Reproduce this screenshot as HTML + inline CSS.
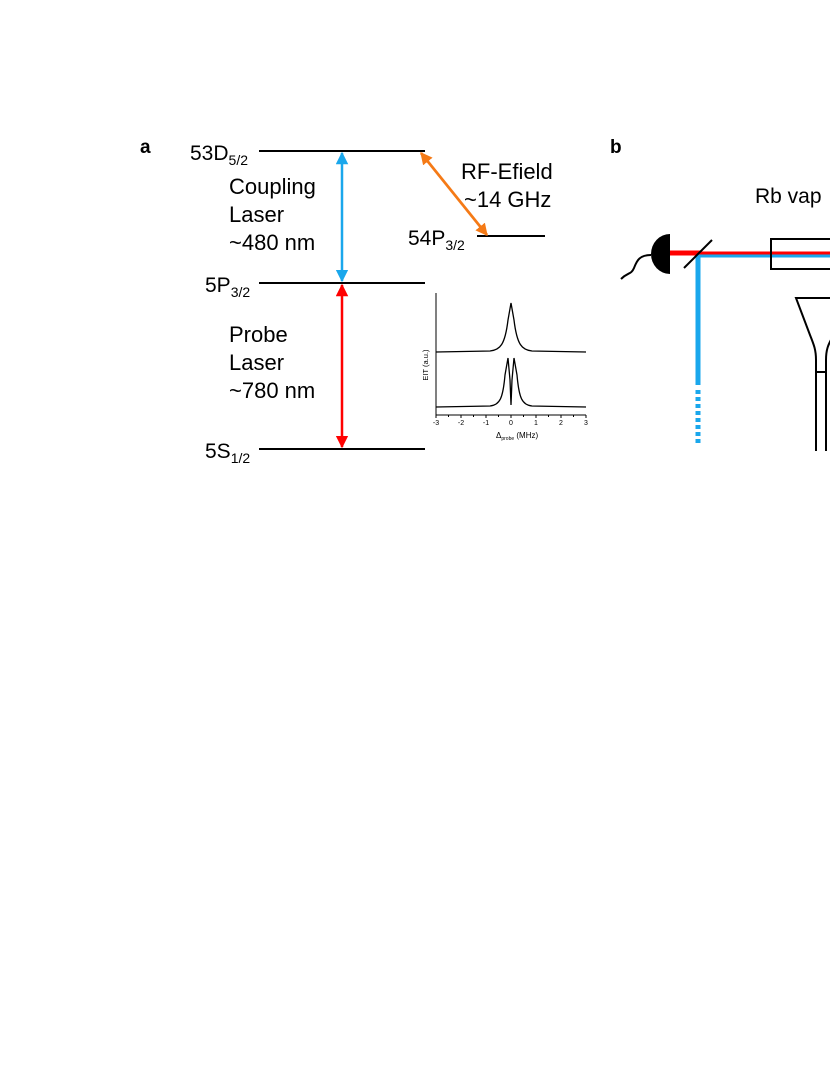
<!DOCTYPE html>
<html><head><style>
body{margin:0;background:#fff}
svg text{font-family:"Liberation Sans",Arial,sans-serif;fill:#000}
</style></head><body>
<svg width="830" height="1075" viewBox="0 0 830 1075" xmlns="http://www.w3.org/2000/svg">
<defs>
<marker id="ab" viewBox="0 0 10 10" refX="9" refY="5" markerWidth="5" markerHeight="5" orient="auto-start-reverse"><path d="M0,0L10,5L0,10z" fill="#1aa7ec"/></marker>
<marker id="ar" viewBox="0 0 10 10" refX="9" refY="5" markerWidth="5" markerHeight="5" orient="auto-start-reverse"><path d="M0,0L10,5L0,10z" fill="#f00"/></marker>
<marker id="ao" viewBox="0 0 10 10" refX="9" refY="5" markerWidth="4.5" markerHeight="4.5" orient="auto-start-reverse"><path d="M0,0L10,5L0,10z" fill="#f57a16"/></marker>
</defs>
<text x="140" y="153" font-size="19" font-weight="bold">a</text>
<text x="610" y="153" font-size="19" font-weight="bold">b</text>
<g stroke="#000" stroke-width="2">
<line x1="259" y1="151" x2="425" y2="151"/>
<line x1="259" y1="283" x2="425" y2="283"/>
<line x1="259" y1="449" x2="425" y2="449"/>
<line x1="477" y1="236" x2="545" y2="236"/>
</g>
<text x="190" y="160" font-size="21">53D<tspan font-size="14" dy="5">5/2</tspan></text>
<text x="205" y="292" font-size="21">5P<tspan font-size="14" dy="5">3/2</tspan></text>
<text x="205" y="458" font-size="21">5S<tspan font-size="14" dy="5">1/2</tspan></text>
<text x="408" y="245" font-size="21">54P<tspan font-size="14" dy="5">3/2</tspan></text>
<text x="229" y="194" font-size="22">Coupling</text>
<text x="229" y="222" font-size="22">Laser</text>
<text x="229" y="250" font-size="22">~480 nm</text>
<text x="229" y="342" font-size="22">Probe</text>
<text x="229" y="370" font-size="22">Laser</text>
<text x="229" y="398" font-size="22">~780 nm</text>
<text x="461" y="179" font-size="22">RF-Efield</text>
<text x="464" y="207" font-size="22">~14 GHz</text>
<line x1="342" y1="153" x2="342" y2="281" stroke="#1aa7ec" stroke-width="2.5" marker-start="url(#ab)" marker-end="url(#ab)"/>
<line x1="342" y1="285" x2="342" y2="447" stroke="#f00" stroke-width="2.5" marker-start="url(#ar)" marker-end="url(#ar)"/>
<line x1="421" y1="153" x2="487" y2="235" stroke="#f57a16" stroke-width="2.7" marker-start="url(#ao)" marker-end="url(#ao)"/>
<!-- inset -->
<g stroke="#000" stroke-width="1" fill="none">
<path d="M436,293V415H586"/>
<path d="M436,415v3M461,415v3M486,415v3M511,415v3M536,415v3M561,415v3M586,415v3M448.5,415v2M473.5,415v2M498.5,415v2M523.5,415v2M548.5,415v2M573.5,415v2"/>
<path d="M436,352 L490,351 C500,350 505,345 508,320 L511,303 L514,320 C517,345 522,350 532,351 L586,352" stroke-width="1.3"/>
<path d="M436,407 L490,406 C500,405 503,398 505,375 L508,358 L510,380 L511,405 L512,380 L514,358 L517,375 C519,398 522,405 532,406 L586,407" stroke-width="1.3"/>
</g>
<g font-size="7" text-anchor="middle">
<text x="436" y="425">-3</text><text x="461" y="425">-2</text><text x="486" y="425">-1</text><text x="511" y="425">0</text><text x="536" y="425">1</text><text x="561" y="425">2</text><text x="586" y="425">3</text>
</g>
<text x="496" y="438" font-size="8">Δ<tspan font-size="5" dy="2">probe</tspan><tspan dy="-2"> (MHz)</tspan></text>
<text transform="translate(428,365) rotate(-90)" font-size="7.5" text-anchor="middle">EIT (a.u.)</text>
<!-- panel b -->
<text x="755" y="203" font-size="21">Rb vap</text>
<line x1="670" y1="253" x2="700" y2="253" stroke="#f00" stroke-width="5"/>
<line x1="700" y1="253" x2="830" y2="253" stroke="#f00" stroke-width="3"/>
<line x1="698" y1="256" x2="830" y2="256" stroke="#1aa7ec" stroke-width="3"/>
<line x1="698" y1="255" x2="698" y2="385" stroke="#1aa7ec" stroke-width="5"/>
<line x1="698" y1="390" x2="698" y2="445" stroke="#1aa7ec" stroke-width="5" stroke-dasharray="4,3"/>
<line x1="684" y1="268" x2="712" y2="240" stroke="#000" stroke-width="2"/>
<path d="M670,234 A19,20 0 0 0 670,274 Z" fill="#000"/>
<path d="M651,255 C640,255 637,260 634,268 C631,275 628,272 621,279" stroke="#000" stroke-width="2" fill="none"/>
<rect x="771" y="239" width="70" height="30" fill="none" stroke="#000" stroke-width="2"/>
<path d="M832,298H796L810,335C814,345 816,350 816,360V451M826,451V360C826,350 828,345 832,338" stroke="#000" stroke-width="2" fill="none"/>
<line x1="816" y1="372" x2="826" y2="372" stroke="#000" stroke-width="2"/>
</svg>
</body></html>
